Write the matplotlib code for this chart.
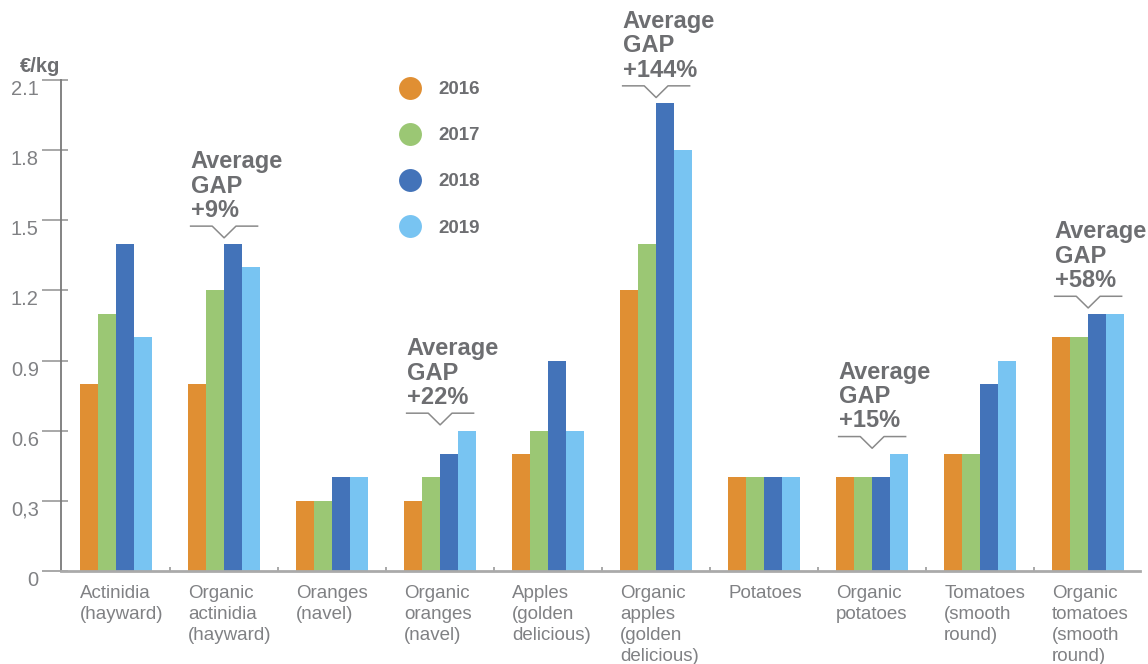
import numpy as np
import matplotlib.pyplot as plt
from matplotlib.lines import Line2D

plt.rcParams['font.family'] = ['Liberation Sans Narrow', 'Liberation Sans', 'DejaVu Sans']

categories = ["Actinidia\n(hayward)", "Organic\nactinidia\n(hayward)", "Oranges\n(navel)",
              "Organic\noranges\n(navel)", "Apples\n(golden\ndelicious)",
              "Organic\napples\n(golden\ndelicious)", "Potatoes", "Organic\npotatoes",
              "Tomatoes\n(smooth\nround)", "Organic\ntomatoes\n(smooth\nround)"]
years = ["2016", "2017", "2018", "2019"]
p2016 = [0.8, 0.8, 0.3, 0.3, 0.5, 1.2, 0.4, 0.4, 0.5, 1.0]
p2017 = [1.1, 1.2, 0.3, 0.4, 0.6, 1.4, 0.4, 0.4, 0.5, 1.0]
p2018 = [1.4, 1.4, 0.4, 0.5, 0.9, 2.0, 0.4, 0.4, 0.8, 1.1]
p2019 = [1.0, 1.3, 0.4, 0.6, 0.6, 1.8, 0.4, 0.5, 0.9, 1.1]
gap_idx = [1, 3, 5, 7, 9]
gap_labels = ["+9%", "+22%", "+144%", "+15%", "+58%"]
yticks = [0, 0.3, 0.6, 0.9, 1.2, 1.5, 1.8, 2.1]
ytick_labels = ["0", "0,3", "0.6", "0.9", "1.2", "1.5", "1.8", "2.1"]

colors = ["#E08F33", "#9BC774", "#4373B9", "#78C4F2"]
txt_gray = "#6D6E71"
lab_gray = "#808184"

fig = plt.figure(figsize=(11.48, 6.64), dpi=100)
ax = fig.add_axes([61/1148, 1 - 571/664, (1140-61)/1148, (571-80)/664])

series = [p2016, p2017, p2018, p2019]
x = np.arange(len(categories))
w = 1/6
for k, vals in enumerate(series):
    ax.bar(x + (k - 1.5)*w, vals, width=w, color=colors[k], label=years[k], zorder=2)

ax.set_xlim(-0.51, 9.48)
ax.set_ylim(0, 2.1)

# y axis
ax.set_yticks(yticks, ytick_labels)
ax.yaxis.remove_overlapping_locs = False
ax.set_yticks(yticks, minor=True)
ax.tick_params(axis='y', which='major', direction='out', length=14, width=1.2, color='#9a9a9a',
               labelsize=14.5, labelcolor=lab_gray, pad=2)
ax.tick_params(axis='y', which='minor', direction='in', length=5, width=1.2, color='#9a9a9a')
for lab in ax.get_yticklabels():
    lab.set_verticalalignment('top')

# x axis
ax.set_xticks([])
ax.set_xticks(x[:-1] + 0.5, minor=True)
ax.tick_params(axis='x', which='minor', direction='in', length=3, width=1.2, color='#999999')
for i, c in enumerate(categories):
    ax.annotate(c, (i - 2*w, 0), xytext=(0, -10), textcoords='offset points',
                ha='left', va='top', fontsize=13.5, color=lab_gray, linespacing=1.32)

for s in ['top', 'right']:
    ax.spines[s].set_visible(False)
ax.spines['left'].set_color('#7a7a7a')
ax.spines['left'].set_linewidth(1.3)
ax.spines['bottom'].set_color('#aaaaaa')
ax.spines['bottom'].set_linewidth(2)

# average gap callouts
for i, g in zip(gap_idx, gap_labels):
    m = max(s[i] for s in series)
    ly = m + 0.075
    vy = m + 0.025
    ax.plot([i - 0.31, i - 0.11, i, i + 0.11, i + 0.31], [ly, ly, vy, ly, ly],
            color='#8a8a8a', lw=1.1, zorder=3)
    ax.annotate("Average\nGAP\n" + g, (i - 0.31, ly), xytext=(0, 3), textcoords='offset points',
                ha='left', va='bottom', fontsize=17, fontweight='bold', color=txt_gray,
                linespacing=1.08)

fig.text(20/1148, 1 - 66/664, "€/kg", fontsize=14.5, fontweight='bold', color=txt_gray,
         ha='left', va='center')

handles = [Line2D([], [], marker='o', ls='none', markersize=16.5, color=c, markeredgewidth=0)
           for c in colors]
ax.legend(handles, years, loc='upper left', bbox_to_anchor=(399/1148, 1 - 81/664),
          bbox_transform=fig.transFigure, frameon=False, handlelength=1.2, handletextpad=0.9,
          labelspacing=1.55, borderpad=0, borderaxespad=0,
          prop={'size': 13.5, 'weight': 'bold'}, labelcolor=txt_gray)

fig.savefig("out.png", dpi=100)
